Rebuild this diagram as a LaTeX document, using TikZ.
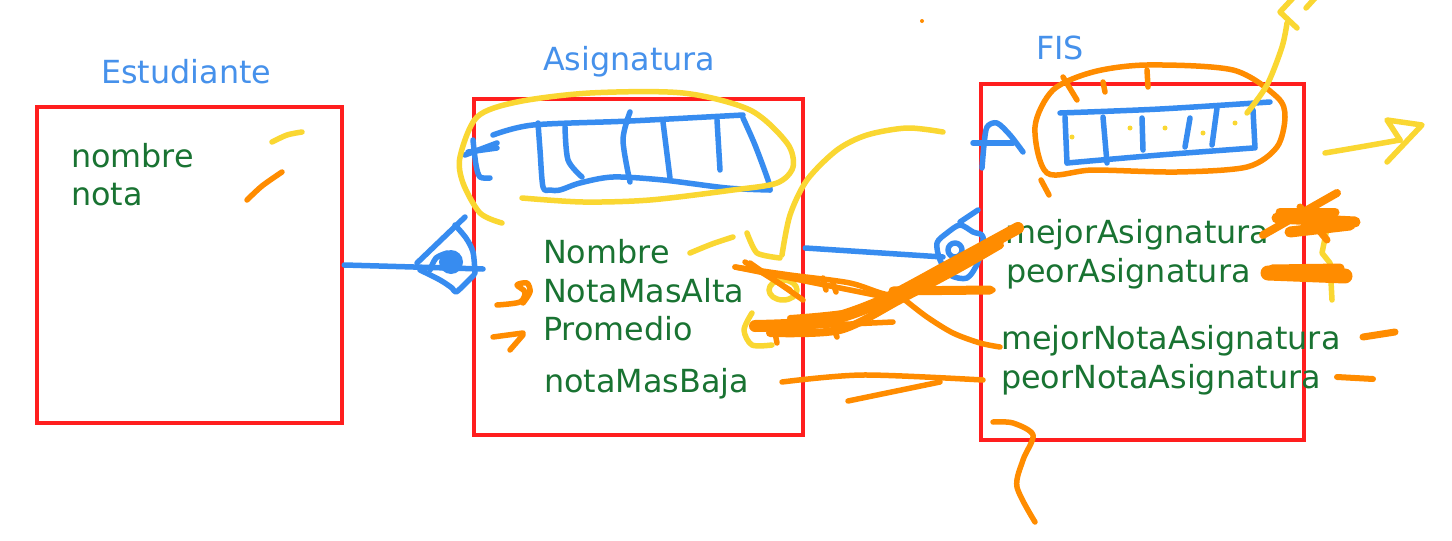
\documentclass[tikz,border=0pt]{standalone}
\usepackage{fontspec}
\setmainfont{DejaVu Sans}
\definecolor{boxred}{RGB}{255,30,30}
\definecolor{pblue}{RGB}{55,140,240}
\definecolor{tblue}{RGB}{70,145,235}
\definecolor{tgreen}{RGB}{25,115,50}
\definecolor{pora}{RGB}{255,140,0}
\definecolor{pyel}{RGB}{250,215,50}
\tikzset{
  box/.style={draw=boxred, line width=4.5, inner sep=0, fill=none},
  titletext/.style={text=tblue, font=\fontsize{31.8}{38}\selectfont, anchor=base west, inner sep=0},
  attr/.style={text=tgreen, font=\fontsize{31.8}{38}\selectfont, anchor=base west, inner sep=0},
  bl/.style={draw=pblue, line width=5.5, line cap=round, line join=round},
  yl/.style={draw=pyel, line width=5.5, line cap=round, line join=round},
  ol/.style={draw=pora, line width=5.5, line cap=round, line join=round}
}
\begin{document}
\begin{tikzpicture}[x=1pt,y=-1pt]
\useasboundingbox[fill=white] (0,0) rectangle (1452,541);

% boxes
\node[box, minimum width=305, minimum height=316] (est) at (189.5,265) {};
\node[box, minimum width=329, minimum height=336] (asig) at (638.5,267) {};
\node[box, minimum width=323, minimum height=356] (fis) at (1142.5,262) {};

% titles
\node[titletext] (tEst) at (101,83) {Estudiante};
\node[titletext] (tAsig) at (543,70) {Asignatura};
\node[titletext] (tFis) at (1036,59) {FIS};

% attributes
\node[attr] (a1) at (71,167) {nombre};
\node[attr] (a2) at (71,205) {nota};
\node[attr] (b1) at (543,263) {Nombre};
\node[attr] (b2) at (543,302) {NotaMasAlta};
\node[attr] (b3) at (543,340) {Promedio};
\node[attr] (b4) at (544,392) {notaMasBaja};
\node[attr] (c1) at (1005,243) {mejorAsignatura};
\node[attr] (c2) at (1006,282) {peorAsignatura};
\node[attr] (c3) at (1001,349) {mejorNotaAsignatura};
\node[attr] (c4) at (1001,388) {peorNotaAsignatura};

% blue connectors
\coordinate (j1) at (483,269);
\coordinate (j2) at (943,257);
\draw[bl] (est.east) -- (j1);
\draw[bl] ([yshift=19pt]asig.east) -- (j2);

% diamond 1
\draw[bl] (417,263) -- (465,217);
\draw[bl] plot[smooth] coordinates {(455,225) (466,238) (473,252) (475,273)};
\draw[bl] plot[smooth] coordinates {(420,270) (440,280) (452,288) (456,292) (465,284) (474,275)};
\fill[pblue] (451,262) circle (12);
\draw[bl] plot[smooth] coordinates {(430,270) (436,258) (447,253)};

% diamond 2
\draw[bl] plot[smooth cycle] coordinates {(937,243) (947,233) (960,225) (973,232) (983,237) (978,262) (967,278) (950,275) (940,260)};
\draw[bl] (960,222) -- (978,210);
\draw[bl] (955,250) circle (7);

% letter A
\draw[bl] plot[smooth, tension=0.5] coordinates {(982,168) (984,145) (987,127) (997,123) (1010,135) (1023,152)};
\draw[bl] (973,143) -- (1013,143);

% array in Asignatura
\draw[bl] plot[smooth] coordinates {(493,135) (533,125) (630,121) (743,115)};
\draw[bl] plot[smooth] coordinates {(743,118) (755,145) (768,180) (770,190)};
\draw[bl] plot[smooth] coordinates {(770,190) (727,188) (663,180) (613,177) (580,183) (560,190) (550,190) (543,187) (540,150) (538,123)};
\draw[bl] plot[smooth] coordinates {(565,127) (568,160) (582,177)};
\draw[bl] plot[smooth] coordinates {(630,112) (623,140) (630,182)};
\draw[bl] (663,122) -- (670,178);
\draw[bl] (717,120) -- (720,170);
\draw[bl] plot[smooth] coordinates {(473,140) (476,165) (480,177) (490,178)};
\draw[bl] (465,155) -- (497,143);
\draw[bl] (468,152) -- (497,148);

% yellow ellipse around Asignatura array
\draw[yl] plot[smooth] coordinates {(502,223) (480,213) (463,183) (460,157) (477,117) (517,102) (590,93) (683,93) (750,110) (787,143) (793,167) (777,183) (733,190) (650,200) (583,202) (522,198)};

% yellow arc and marks
\draw[yl] plot[smooth] coordinates {(943,132) (907,128) (867,135) (837,150) (807,180) (790,215) (782,255)};
\draw[yl] plot[smooth, tension=0.4] coordinates {(747,233) (757,253) (780,258)};
\draw[yl] (783,290) ellipse (14 and 10);
\draw[yl] plot[smooth] coordinates {(752,313) (744,330) (752,345) (772,345)};
\draw[yl] plot[smooth] coordinates {(690,253) (712,244) (733,237)};
\draw[yl] plot[smooth] coordinates {(272,142) (287,135) (302,132)};

% orange marks left
\draw[ol] plot[smooth] coordinates {(247,200) (262,186) (282,172)};
\draw[ol] plot[smooth, tension=0.5] coordinates {(497,305) (520,302) (525,292) (517,285) (527,283) (530,292) (523,303)};
\draw[ol] (493,337) -- (523,333);
\draw[ol] (510,350) -- (523,335);

% orange scribbles between Asignatura and FIS
\draw[ol] plot[smooth] coordinates {(735,267) (790,275) (850,283) (890,295) (930,290) (993,290)};
\draw[ol] plot[smooth] coordinates {(735,267) (800,280) (850,290) (900,300)};
\draw[ol] (750,263) -- (803,300);
\draw[ol] (745,262) -- (790,290);
\draw[ol] (823,278) -- (826,290);
\draw[ol] (833,283) -- (836,292);
\draw[ol, line width=12] plot[smooth] coordinates {(755,326) (820,322) (880,302) (950,265) (1018,228)};
\draw[ol, line width=8] plot[smooth] coordinates {(770,333) (840,330) (900,300) (960,268) (1000,245)};
\draw[ol, line width=6] plot[smooth] coordinates {(790,318) (860,310) (920,285) (980,250) (1010,232)};
\draw[ol] (787,327) -- (893,322);
\draw[ol] (773,323) -- (777,343);
\draw[ol] (833,327) -- (837,337);
\draw[ol, line width=9] (893,291) -- (990,290);
\draw[ol] plot[smooth] coordinates {(905,300) (927,317) (953,333) (980,343) (1000,347)};
\draw[ol] plot[smooth] coordinates {(782,382) (863,375) (983,380)};
\draw[ol] (848,401) -- (940,382);
\draw[ol] plot[smooth, tension=0.5] coordinates {(993,422) (1013,423) (1033,435) (1023,460) (1017,487) (1035,522)};
\fill[pora] (922,21) circle (2);

% FIS array
\draw[ol] plot[smooth cycle] coordinates {(1047,173) (1035,127) (1053,90) (1093,72) (1147,65) (1233,70) (1277,97) (1285,117) (1277,147) (1247,167) (1177,172) (1093,170)};
\draw[ol] (1041,180) -- (1049,195);
\draw[ol] (1063,77) -- (1077,100);
\draw[ol] (1103,82) -- (1105,92);
\draw[ol] (1147,70) -- (1148,87);
\draw[bl] plot[smooth] coordinates {(1060,113) (1160,109) (1270,102)};
\draw[bl] (1065,117) -- (1067,163);
\draw[bl] plot[smooth] coordinates {(1067,163) (1160,155) (1253,148)};
\draw[bl] (1253,110) -- (1255,148);
\draw[bl] (1103,117) -- (1107,163);
\draw[bl] (1142,118) -- (1143,150);
\draw[bl] (1190,118) -- (1185,147);
\draw[bl] (1217,108) -- (1212,145);
\foreach \p in {(1072,137),(1130,128),(1165,128),(1203,133),(1235,123)} \fill[pyel] \p circle (2.5);

% yellow arrows right
\draw[yl] plot[smooth] coordinates {(1247,113) (1267,85) (1282,47) (1287,23)};
\draw[yl] (1297,28) -- (1280,12) -- (1293,-2);
\draw[yl] (1306,8) -- (1316,-3);
\draw[yl] plot[smooth] coordinates {(1325,153) (1360,147) (1400,140)};
\draw[yl] (1387,162) -- (1422,125) -- (1387,120) -- (1400,140);
\draw[yl] plot coordinates {(1327,228) (1322,253) (1330,263) (1332,300)};

% orange blobs right
\draw[ol, line width=8] (1263,235) -- (1337,193);
\draw[ol, line width=11] (1277,218) -- (1355,222);
\draw[ol, line width=11] (1290,232) -- (1350,225);
\draw[ol, line width=7] (1300,207) -- (1327,240);
\draw[ol, line width=9] (1280,212) -- (1335,212);
\draw[ol, line width=15] (1268,273) -- (1345,276);
\draw[ol, line width=9] (1272,269) -- (1340,268);
\draw[ol, line width=7] (1363,337) -- (1395,332);
\draw[ol, line width=6] (1337,377) -- (1373,379);
\end{tikzpicture}
\end{document}
